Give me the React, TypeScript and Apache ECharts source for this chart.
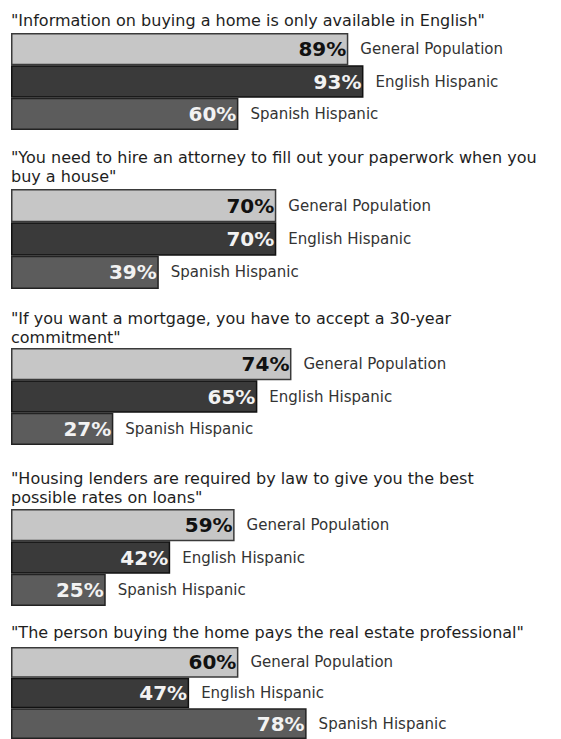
import React, { useEffect, useRef } from "react";
import * as echarts from "echarts";

const questions = [
  "\"Information on buying a home is only available in English\"",
  "\"You need to hire an attorney to fill out your paperwork when you\nbuy a house\"",
  "\"If you want a mortgage, you have to accept a 30-year\ncommitment\"",
  "\"Housing lenders are required by law to give you the best\npossible rates on loans\"",
  "\"The person buying the home pays the real estate professional\"",
];
const groups = ["General Population", "English Hispanic", "Spanish Hispanic"];
const generalPopulation = [89, 70, 74, 59, 60];
const englishHispanic = [93, 70, 65, 42, 47];
const spanishHispanic = [60, 39, 27, 25, 78];

const gridTops = [33, 189, 348, 509, 647];
const gridHeights = [97, 100, 97, 97, 98];
const titleTops = [10.5, 148, 308.5, 469, 623];

const fills = ["#c6c6c6", "#3a3a3a", "#5c5c5c"];
const borders = ["#3a3a3a", "#111111", "#222222"];
const valueColors = ["#111111", "#f2f2f2", "#f2f2f2"];

export default function App() {
  const ref = useRef<HTMLDivElement>(null);
  useEffect(() => {
    if (!ref.current) return;
    const chart = echarts.init(ref.current, undefined, { renderer: "svg" });
    const values = questions.map((_, i) => [
      generalPopulation[i],
      englishHispanic[i],
      spanishHispanic[i],
    ]);
    const grid: any[] = [];
    const xAxis: any[] = [];
    const yAxis: any[] = [];
    const series: any[] = [];
    const title: any[] = [];
    questions.forEach((q, i) => {
      title.push({
        text: q,
        left: 11,
        top: titleTops[i],
        padding: 0,
        textStyle: {
          fontFamily: "DejaVu Sans",
          fontSize: 16,
          fontWeight: "normal",
          color: "#1e1e1e",
          lineHeight: 19,
        },
      });
      grid.push({ left: 11, width: 379, top: gridTops[i], height: gridHeights[i] });
      xAxis.push({ type: "value", min: 0, max: 100, gridIndex: i, show: false });
      yAxis.push({
        type: "category",
        data: groups,
        inverse: true,
        gridIndex: i,
        show: false,
      });
      series.push({
        type: "bar",
        xAxisIndex: i,
        yAxisIndex: i,
        barWidth: "100%",
        silent: true,
        data: values[i].map((v, k) => ({
          value: v,
          itemStyle: { color: fills[k], borderColor: borders[k], borderWidth: 1.5 },
          label: { color: valueColors[k] },
        })),
        label: {
          show: true,
          position: "insideRight",
          distance: 2,
          formatter: "{c}%",
          fontFamily: "DejaVu Sans",
          fontWeight: "bold",
          fontSize: 20,
        },
      });
      series.push({
        type: "bar",
        xAxisIndex: i,
        yAxisIndex: i,
        barWidth: "100%",
        barGap: "-100%",
        silent: true,
        data: values[i],
        itemStyle: { color: "transparent" },
        label: {
          show: true,
          position: "right",
          distance: 12,
          formatter: "{b}",
          fontFamily: "DejaVu Sans",
          fontSize: 15,
          color: "#333",
        },
      });
    });
    chart.setOption({
      animation: false,
      backgroundColor: "#ffffff",
      title,
      grid,
      xAxis,
      yAxis,
      series,
    });
    return () => chart.dispose();
  }, []);
  return (
    <div
      ref={ref}
      style={{ position: "absolute", left: 0, top: 0, width: 561, height: 739 }}
    />
  );
}
